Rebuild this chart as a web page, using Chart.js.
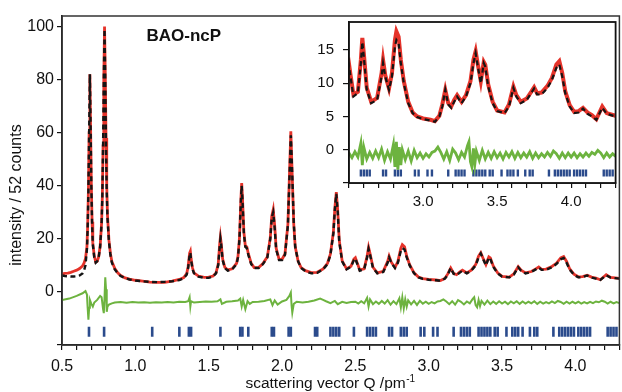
<!DOCTYPE html>
<html>
<head>
<meta charset="utf-8">
<script src="https://cdn.jsdelivr.net/npm/chart.js@4.4.0/dist/chart.umd.min.js"></script>
<style>
html, body { margin: 0; padding: 0; background: #fff; }
#wrap { position: relative; width: 622px; height: 392px; overflow: hidden; }
#main { position: absolute; left: 0; top: 0; }
#inset { position: absolute; left: 318px; top: 14px; }
</style>
</head>
<body>
<div id="wrap">
  <!-- a little wider than the page: the x axis keeps its label padding on the right -->
  <canvas id="main" width="627" height="392"></canvas>
  <canvas id="inset" width="304" height="200"></canvas>
</div>
<script>
var qProfile = [0.50,0.52,0.54,0.56,0.58,0.60,0.62,0.64,0.65,0.66,0.67,0.675,0.68,0.685,0.69,0.695,0.70,0.705,0.71,0.72,
  0.73,0.74,0.75,0.76,0.77,0.775,0.78,0.785,0.79,0.795,0.80,0.805,0.81,0.82,0.83,0.84,0.86,0.88,0.90,0.93,
  0.96,1.00,1.05,1.10,1.15,1.20,1.25,1.30,1.33,1.35,1.36,1.37,1.375,1.38,1.39,1.40,1.43,1.47,1.50,1.53,
  1.55,1.565,1.575,1.58,1.585,1.595,1.61,1.63,1.66,1.69,1.70,1.71,1.72,1.725,1.73,1.74,1.75,1.76,1.77,1.79,
  1.81,1.84,1.87,1.90,1.92,1.93,1.94,1.95,1.96,1.98,2.00,2.02,2.04,2.05,2.06,2.07,2.08,2.09,2.11,2.13,
  2.16,2.20,2.24,2.28,2.31,2.33,2.35,2.36,2.37,2.38,2.39,2.41,2.44,2.47,2.49,2.50,2.51,2.53,2.56,2.58,
  2.59,2.60,2.62,2.65,2.69,2.72,2.73,2.745,2.77,2.79,2.81,2.82,2.835,2.85,2.87,2.90,2.93,2.96,3.00,3.05,
  3.08,3.11,3.13,3.15,3.17,3.19,3.21,3.23,3.26,3.29,3.32,3.34,3.355,3.37,3.39,3.41,3.42,3.44,3.47,3.50,
  3.55,3.58,3.61,3.63,3.66,3.70,3.73,3.75,3.77,3.80,3.84,3.87,3.90,3.92,3.94,3.96,3.99,4.02,4.05,4.08,
  4.11,4.14,4.17,4.21,4.24,4.27,4.30];
var iCalc = [6.2,6.0,5.9,5.8,5.8,5.9,6.2,7.0,8.0,10.0,16.0,24.0,38.0,60.0,82.0,62.0,40.0,26.0,18.0,13.0,
  11.0,11.5,13.0,17.0,26.0,36.0,55.0,80.0,99.0,80.0,55.0,38.0,28.0,19.0,14.0,11.0,8.5,7.0,6.0,5.2,
  4.7,4.3,4.0,3.8,3.7,3.8,4.0,4.5,5.2,6.5,9.0,14.0,14.8,12.0,8.5,7.0,5.8,5.3,5.3,5.8,
  7.0,10.0,17.0,20.0,18.0,12.0,9.0,8.0,8.5,10.5,13.0,20.0,35.0,40.0,35.0,22.0,17.0,16.5,14.0,10.5,
  9.0,9.0,10.5,13.0,20.0,28.0,30.0,24.0,16.0,12.0,12.0,14.0,25.0,42.0,59.0,44.0,26.0,17.0,11.5,9.0,
  7.8,7.0,7.2,8.5,10.5,14.0,22.0,31.0,37.0,30.0,19.0,11.5,8.5,9.5,12.0,12.6,11.0,8.0,8.5,13.0,
  16.2,14.0,9.0,7.0,7.5,11.0,13.0,11.0,9.0,11.0,15.5,16.5,16.0,13.0,10.0,7.0,5.5,4.9,4.6,4.4,
  4.2,5.0,6.5,9.0,6.8,6.3,7.2,8.0,7.0,8.0,10.0,13.0,14.5,12.5,10.0,13.0,12.5,9.5,7.0,5.8,
  5.5,6.5,9.3,8.0,7.0,7.5,8.5,9.2,8.3,8.3,9.3,10.5,12.3,12.8,11.0,8.5,6.5,5.5,5.6,6.2,
  5.4,5.0,4.5,6.3,5.4,5.2,5.0];
var iObs = [6.8,7.0,7.1,7.4,7.8,8.2,8.8,9.8,10.8,12.5,17.0,25.0,38.0,60.0,82.0,62.0,40.0,26.5,18.5,13.5,
  11.3,11.6,13.2,17.2,26.0,36.0,55.0,80.0,100.0,82.0,58.0,40.0,29.0,19.5,14.5,11.5,8.8,7.2,6.2,5.3,
  4.8,4.4,4.1,3.7,3.6,3.6,4.1,4.7,5.4,6.9,9.6,14.6,15.3,12.5,9.0,7.2,6.0,5.5,5.6,6.0,
  7.2,10.5,18.0,20.7,18.5,12.5,9.3,8.3,8.7,10.8,13.5,20.5,35.5,41.0,36.0,22.5,17.3,17.0,14.5,10.8,
  9.2,9.2,10.7,13.3,20.5,28.5,31.0,25.0,16.5,12.3,12.3,14.3,25.5,43.0,60.5,43.0,25.5,17.0,11.5,9.2,
  8.0,7.3,7.4,8.7,10.8,14.3,22.5,31.5,37.6,30.5,19.5,11.7,8.7,9.7,12.4,12.9,11.3,8.3,8.7,13.5,
  16.8,14.5,9.3,7.2,7.8,11.5,13.5,11.2,9.2,11.5,16.5,17.8,17.0,13.5,10.3,7.2,5.6,5.0,4.7,4.5,
  4.3,5.1,6.8,9.0,7.0,6.5,7.5,8.2,7.2,8.2,10.3,13.5,14.8,12.8,10.3,13.2,12.8,9.8,7.2,5.9,
  5.6,6.8,9.5,8.2,7.2,7.7,8.7,9.4,8.5,8.6,9.6,10.8,12.8,13.3,11.5,8.8,6.7,5.7,5.8,6.3,
  5.6,5.2,4.6,6.5,5.5,5.3,5.1];

// difference curve (obs - calc), drawn shifted below the profile
var qDiff = [0.50,0.55,0.60,0.64,0.66,0.67,0.675,0.68,0.685,0.69,0.70,0.71,0.72,0.74,0.76,0.77,0.78,0.785,0.79,0.795,
  0.80,0.805,0.81,0.82,0.84,0.86,0.90,0.94,0.98,1.02,1.06,1.10,1.14,1.18,1.22,1.26,1.30,1.34,1.36,1.37,
  1.375,1.38,1.40,1.44,1.48,1.52,1.56,1.58,1.59,1.62,1.66,1.70,1.715,1.725,1.735,1.75,1.765,1.78,1.80,1.84,
  1.88,1.92,1.935,1.95,1.97,2.00,2.03,2.05,2.06,2.065,2.07,2.08,2.10,2.14,2.18,2.22,2.26,2.28,2.30,2.33,
  2.36,2.38,2.41,2.44,2.47,2.50,2.52,2.54,2.56,2.58,2.59,2.60,2.62,2.64,2.66,2.68,2.70,2.72,2.74,2.76,
  2.78,2.80,2.81,2.82,2.83,2.84,2.85,2.86,2.88,2.90,2.92,2.94,2.96,2.98,3.00,3.02,3.04,3.06,3.08,3.10,
  3.12,3.14,3.16,3.18,3.20,3.22,3.24,3.26,3.28,3.30,3.31,3.32,3.33,3.34,3.35,3.36,3.38,3.40,3.42,3.44,
  3.46,3.48,3.50,3.52,3.54,3.56,3.58,3.60,3.62,3.64,3.66,3.68,3.70,3.72,3.74,3.76,3.78,3.80,3.82,3.84,
  3.86,3.88,3.90,3.92,3.94,3.96,3.98,4.00,4.02,4.04,4.06,4.08,4.10,4.12,4.14,4.16,4.18,4.20,4.22,4.24,
  4.26,4.28,4.30];
var iDiff = [1.0,1.5,2.5,3.5,4.3,3.0,-2.0,-6.5,-2.0,1.0,-0.5,-1.5,0.0,1.0,2.5,2.0,-2.5,-4.0,2.0,9.5,
  5.0,-3.5,-1.5,-0.8,-0.3,0.0,0.2,-0.1,0.2,0.0,0.1,-0.1,0.1,0.0,0.2,0.0,0.3,0.2,0.5,2.0,
  -1.5,0.5,0.0,0.2,0.4,0.3,0.5,1.2,-0.5,0.3,0.5,0.8,1.5,-1.5,1.0,-2.5,0.5,-0.5,0.2,0.3,
  0.6,1.2,-1.0,0.8,-0.8,0.4,1.0,2.5,3.8,-1.0,-3.8,-0.5,0.3,0.0,0.3,0.8,1.5,1.0,0.5,-0.2,
  0.6,-0.6,0.3,-0.2,0.2,0.3,-0.4,0.5,-0.3,1.8,-1.5,1.2,-0.6,0.4,-0.5,0.6,-0.4,0.9,-0.8,0.5,
  -0.6,1.6,-1.8,2.0,-2.2,1.2,-1.5,0.8,-0.7,0.6,-0.9,0.7,-0.4,0.3,-0.5,0.2,-0.3,0.4,0.6,1.2,
  0.4,-0.6,0.5,-0.8,0.9,0.3,-0.7,0.4,-0.3,1.4,2.0,-1.0,-1.8,1.0,-1.3,0.6,-0.8,0.7,-0.6,0.4,
  -0.5,0.5,-0.4,0.3,-0.6,0.4,-0.3,0.5,-0.5,0.4,-0.4,0.3,-0.3,0.5,-0.5,0.3,-0.4,0.2,-0.3,0.4,
  -0.2,0.6,0.2,-0.5,0.3,-0.4,0.3,-0.3,0.3,-0.4,0.2,-0.3,0.3,-0.2,0.4,0.1,0.7,0.3,-0.4,0.3,
  -0.3,0.2,-0.2];

// Bragg reflection positions
var qRefl = [0.684,0.787,1.115,1.30,1.365,1.38,1.58,1.715,1.73,1.77,1.93,1.945,2.045,2.06,2.225,2.24,2.33,2.35,2.37,2.39,
  2.49,2.58,2.60,2.62,2.64,2.73,2.75,2.81,2.83,2.85,2.945,2.97,3.03,3.06,3.17,3.22,3.24,3.26,3.28,3.34,
  3.36,3.38,3.40,3.42,3.45,3.47,3.53,3.57,3.59,3.61,3.64,3.69,3.72,3.74,3.85,3.89,3.91,3.93,3.95,3.97,
  3.99,4.02,4.04,4.06,4.08,4.10,4.22,4.24,4.26,4.28];

var DIFF_OFFSET_MAIN = -4, REFL_ROW_MAIN = -15;
var DIFF_OFFSET_INSET = -0.8, REFL_ROW_INSET = -3.5;

var RED = '#e5332a', BLACK = '#151515', GREEN = '#6db33f', BLUE = '#2b4b8c';
var FONT = '"Liberation Sans", Arial, sans-serif';

function pts(xs, ys, shift) {
  return xs.map(function (x, i) { return { x: x, y: ys[i] + (shift || 0) }; });
}
function row(xs, y) {
  return xs.map(function (x) { return { x: x, y: y }; });
}

function buildDatasets(diffOffset, reflRow, big) {
  return [
    { data: pts(qProfile, iCalc), showLine: true, borderColor: BLACK, borderWidth: big ? 2.4 : 2.2,
      borderDash: [5, 3.5], pointRadius: 0, tension: 0 },
    { data: pts(qProfile, iObs), showLine: true, borderColor: RED, borderWidth: big ? 2.8 : 4,
      pointRadius: 0, tension: 0 },
    { data: pts(qDiff, iDiff, diffOffset), showLine: true, borderColor: GREEN, borderWidth: big ? 2 : 2.8,
      pointRadius: 0, tension: 0 },
    { data: row(qRefl, reflRow), showLine: false, pointStyle: 'line', rotation: 90,
      pointRadius: big ? 5 : 3.5, pointBorderWidth: big ? 2.6 : 2.4, pointBorderColor: BLUE,
      pointBackgroundColor: BLUE }
  ];
}

function xLabel(v) {
  var r = Math.round(v * 10);
  return r % 5 === 0 ? (r / 10).toFixed(1) : '';
}
function xLabelInset(v) {
  return v < 2.9 ? '' : xLabel(v);
}
function noPadX(s, h) { s.height = h; s.paddingLeft = 0; s.paddingRight = 0; }
function noPadY(s, w) { s.width = w; s.paddingTop = 0; s.paddingBottom = 0; }

var boxPlugin = {
  id: 'box',
  beforeDatasetsDraw: function (chart, args, opts) {
    var a = chart.chartArea, ctx = chart.ctx;
    if (opts.fill) {
      ctx.save();
      ctx.fillStyle = '#fff';
      ctx.fillRect(a.left, a.top, a.right - a.left, a.bottom - a.top);
      ctx.restore();
    }
  },
  afterDraw: function (chart, args, opts) {
    var a = chart.chartArea, ctx = chart.ctx;
    ctx.save();
    ctx.strokeStyle = opts.color || '#222';
    ctx.lineWidth = opts.width || 1.5;
    ctx.strokeRect(a.left, a.top, a.right - a.left, a.bottom - a.top);
    ctx.restore();
  }
};

var textPlugin = {
  id: 'texts',
  afterDraw: function (chart) {
    var ctx = chart.ctx, xs = chart.scales.x, ys = chart.scales.y;
    ctx.save();
    ctx.fillStyle = '#111';
    ctx.font = 'bold 17px ' + FONT;
    ctx.textAlign = 'center';
    ctx.textBaseline = 'middle';
    ctx.fillText('BAO-ncP', xs.getPixelForValue(1.33), ys.getPixelForValue(96.5));

    // y title
    ctx.save();
    ctx.translate(17, 195);
    ctx.rotate(-Math.PI / 2);
    ctx.font = '16px ' + FONT;
    ctx.fillText('intensity / 52 counts', 0, 0);
    ctx.restore();

    // x title with superscript
    var base = 'scattering vector Q /pm', sup = '-1';
    ctx.font = '15.5px ' + FONT;
    var wb = ctx.measureText(base).width;
    ctx.font = '10px ' + FONT;
    var ws = ctx.measureText(sup).width;
    var x0 = 330 - (wb + ws) / 2;
    ctx.textAlign = 'left';
    ctx.textBaseline = 'alphabetic';
    ctx.font = '15.5px ' + FONT;
    ctx.fillText(base, x0, 388);
    ctx.font = '10px ' + FONT;
    ctx.fillText(sup, x0 + wb + 0.5, 382);
    ctx.restore();
  }
};

Chart.defaults.font.family = FONT;
Chart.defaults.color = '#111';

new Chart(document.getElementById('main'), {
  type: 'scatter',
  data: { datasets: buildDatasets(DIFF_OFFSET_MAIN, REFL_ROW_MAIN, true) },
  options: {
    responsive: false,
    animation: false,
    layout: { padding: { top: 16, right: 0, left: 0, bottom: 0 } },
    plugins: { legend: { display: false }, tooltip: { enabled: false }, box: { color: '#333', width: 1.5 } },
    scales: {
      x: {
        type: 'linear', min: 0.5, max: 4.3,
        afterFit: function (s) { noPadX(s, 47); },
        ticks: { stepSize: 0.1, autoSkip: false, maxRotation: 0, includeBounds: false,
                 callback: xLabel, padding: 7, font: { size: 16 } },
        grid: { drawOnChartArea: false, drawTicks: true, tickLength: 5, color: '#111', lineWidth: 1.2 },
        border: { display: true, color: '#111', width: 1.6 }
      },
      y: {
        type: 'linear', min: -20, max: 104,
        afterFit: function (s) { noPadY(s, 62); },
        ticks: { stepSize: 20, includeBounds: false, padding: 3, font: { size: 16 },
                 callback: function (v) { return v >= 0 ? v : ''; } },
        grid: { drawOnChartArea: false, drawTicks: true, tickLength: 5, color: '#111', lineWidth: 1.2 },
        border: { display: true, color: '#111', width: 1.6 }
      }
    }
  },
  plugins: [boxPlugin, textPlugin]
});

new Chart(document.getElementById('inset'), {
  type: 'scatter',
  data: { datasets: buildDatasets(DIFF_OFFSET_INSET, REFL_ROW_INSET, false) },
  options: {
    responsive: false,
    animation: false,
    layout: { padding: { top: 8, right: 5, left: 0, bottom: 0 } },
    plugins: { legend: { display: false }, tooltip: { enabled: false }, box: { color: '#111', width: 1.8, fill: true } },
    scales: {
      x: {
        type: 'linear', min: 2.5, max: 4.3,
        afterFit: function (s) { noPadX(s, 31); },
        ticks: { stepSize: 0.1, autoSkip: false, maxRotation: 0, includeBounds: false,
                 callback: xLabelInset, padding: 5, font: { size: 15 } },
        grid: { drawOnChartArea: false, drawTicks: true, tickLength: 5, color: '#111', lineWidth: 1.2 },
        border: { display: true, color: '#111', width: 1.6 }
      },
      y: {
        type: 'linear', min: -5, max: 19.2,
        afterFit: function (s) { noPadY(s, 31); },
        ticks: { stepSize: 5, includeBounds: false, padding: 9, font: { size: 15 },
                 callback: function (v) { return v >= 0 ? v : ''; } },
        grid: { drawOnChartArea: false, drawTicks: true, tickLength: 6, color: '#111', lineWidth: 1.2 },
        border: { display: true, color: '#111', width: 1.6 }
      }
    }
  },
  plugins: [boxPlugin]
});
</script>
</body>
</html>
